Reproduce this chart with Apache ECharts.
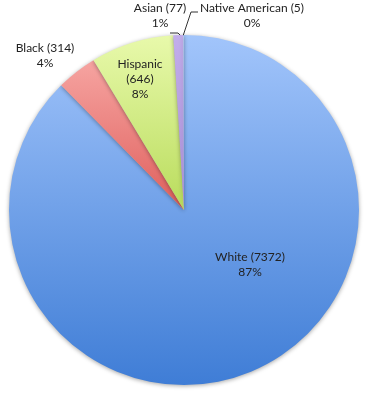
<!DOCTYPE html>
<html><head><meta charset="utf-8">
<script src="https://cdn.jsdelivr.net/npm/echarts@6/dist/echarts.min.js"></script>
<style>html,body{margin:0;padding:0;background:#fff}#c{width:370px;height:400px}</style>
</head><body><div id="c"></div>
<script>
const categories = ['White', 'Black', 'Hispanic', 'Asian', 'Native American'];
const counts = [7372, 314, 646, 77, 5];
const topColors = ['#a2c5fb', '#f6a4a1', '#e8f9ab', '#c2adeb', '#a9c9f6'];
const bottomColors = ['#3f7dd6', '#df5f5c', '#b9dc5c', '#a98ed6', '#7aa6e4'];

const labelPos = [[250, 265], [45, 56], [140, 79], [160, 16], [252, 16]];
const linePts = [null, null, null,
  [[181, 36], [178, 33], [170, 33]],
  [[183, 36], [191, 12], [198, 12]]];

const chart = echarts.init(document.getElementById('c'));
const data = categories.map((n, i) => ({
  name: n, value: counts[i],
  itemStyle: { color: new echarts.graphic.LinearGradient(0, 0, 0, 1, [
    { offset: 0, color: topColors[i] }, { offset: 1, color: bottomColors[i] }]) },
  labelLine: { show: i >= 3, lineStyle: { color: '#333', width: 1 } }
}));
chart.setOption({
  animation: false,
  series: [{
    type: 'pie',
    center: [184, 210],
    radius: 175,
    startAngle: 90,
    clockwise: true,
    percentPrecision: 0,
    avoidLabelOverlap: false,
    data: data,
    itemStyle: { shadowBlur: 4, shadowColor: 'rgba(0,0,0,0.35)', shadowOffsetY: 1 },
    label: {
      show: true,
      position: 'outside',
      fontFamily: 'Lato',
      fontSize: 12,
      color: '#222',
      lineHeight: 15,
      align: 'center',
      formatter: p => p.name === 'Hispanic' ? p.name + '\n(' + p.value + ')\n' + p.percent + '%'
                                             : p.name + ' (' + p.value + ')\n' + p.percent + '%'
    },
    labelLine: { show: true, length: 5, length2: 5 },
    labelLayout: p => {
      const i = p.dataIndex;
      const r = { x: labelPos[i][0], y: labelPos[i][1], align: 'center', verticalAlign: 'middle' };
      if (linePts[i]) r.labelLinePoints = linePts[i];
      return r;
    }
  }]
});
</script></body></html>
